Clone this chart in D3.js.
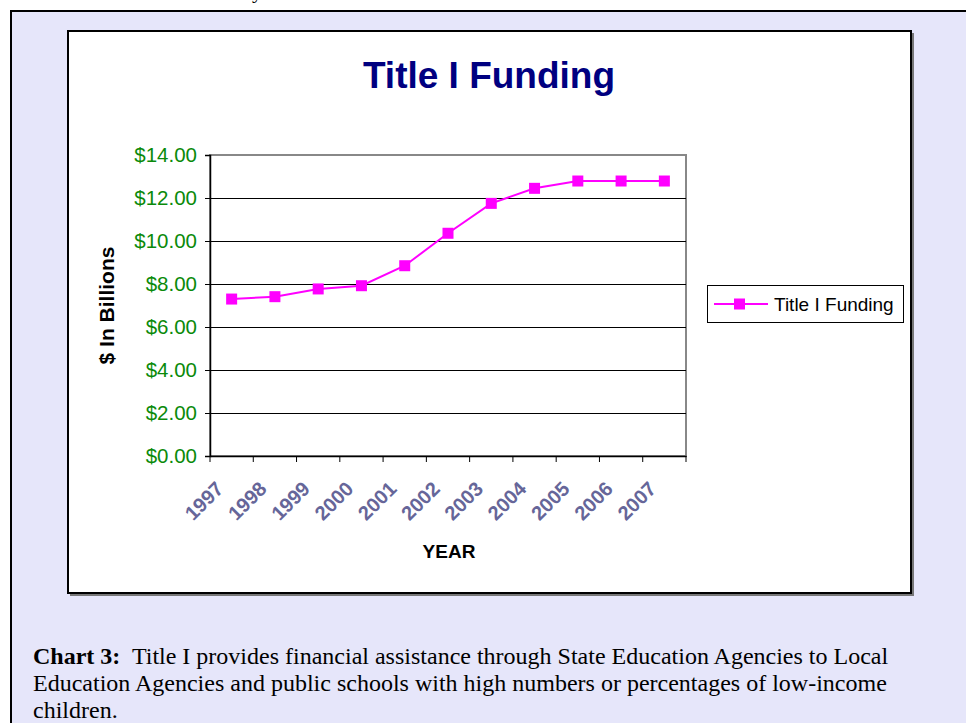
<!DOCTYPE html>
<html>
<head>
<meta charset="utf-8">
<script src="https://cdn.jsdelivr.net/npm/d3@7/dist/d3.min.js"></script>
<style>
  html, body { margin: 0; padding: 0; background: #fff; }
  svg { display: block; }
</style>
</head>
<body>
<svg id="chart" width="966" height="723"></svg>
<script>
const years = ["1997","1998","1999","2000","2001","2002","2003","2004","2005","2006","2007"];
const funding = [7.30, 7.41, 7.77, 7.92, 8.85, 10.36, 11.75, 12.45, 12.79, 12.79, 12.79];
const yTicks = [0, 2, 4, 6, 8, 10, 12, 14];
const seriesName = "Title I Funding";
const chartTitle = "Title I Funding";
const yLabel = "$ In Billions";
const xLabel = "YEAR";
const captionBold = "Chart 3:";
const captionLines = [
  "  Title I provides financial assistance through State Education Agencies to Local",
  "Education Agencies and public schools with high numbers or percentages of low-income",
  "children."
];

const svg = d3.select("#chart");
const W = 966, H = 723;

// page background & outer frame
svg.append("rect").attr("x", 0).attr("y", 0).attr("width", W).attr("height", H).attr("fill", "#fff");
svg.append("rect").attr("x", 11).attr("y", 11).attr("width", W).attr("height", H).attr("fill", "#E6E6FA");
svg.append("path").attr("d", `M11,${H}V11H${W}`).attr("fill", "none").attr("stroke", "#000").attr("stroke-width", 2);
// cut-off text fragment above frame (as in the source page)
svg.append("text").attr("x", 252).attr("y", -2).attr("font-family", "Liberation Serif").attr("font-size", 21).attr("fill", "#000").text("y");

// chart box with shadow
svg.append("rect").attr("x", 70).attr("y", 33).attr("width", 844).attr("height", 563).attr("fill", "#777");
svg.append("rect").attr("x", 68).attr("y", 31).attr("width", 843).attr("height", 562)
  .attr("fill", "#fff").attr("stroke", "#000").attr("stroke-width", 2);

// title
svg.append("text").attr("x", 489).attr("y", 88).attr("text-anchor", "middle")
  .attr("font-family", "Liberation Sans, Arial, sans-serif").attr("font-weight", "bold")
  .attr("font-size", 37).attr("fill", "#000080").text(chartTitle);

// scales
const plot = { left: 210, right: 686, top: 155, bottom: 456 };
const x = d3.scaleBand().domain(years).range([plot.left, plot.right]).padding(0);
const y = d3.scaleLinear().domain([0, 14]).range([plot.bottom, plot.top]);

// plot area border (gray)
svg.append("rect").attr("x", plot.left).attr("y", plot.top)
  .attr("width", plot.right - plot.left).attr("height", plot.bottom - plot.top)
  .attr("fill", "#fff").attr("stroke", "#888").attr("stroke-width", 2);

// gridlines
svg.append("g").selectAll("line").data(yTicks.filter(d => d > 0 && d < 14)).join("line")
  .attr("x1", plot.left).attr("x2", plot.right)
  .attr("y1", d => Math.round(y(d)) + 0.5).attr("y2", d => Math.round(y(d)) + 0.5)
  .attr("stroke", "#000").attr("stroke-width", 1);

// y axis
const yAxis = svg.append("g").attr("transform", `translate(${plot.left},0)`)
  .call(d3.axisLeft(y).tickValues(yTicks).tickFormat(d3.format("$.2f")).tickSize(5).tickPadding(8));
yAxis.select(".domain").attr("stroke", "#000").attr("stroke-width", 1.5);
yAxis.selectAll(".tick line").attr("stroke", "#000").attr("stroke-width", 1);
yAxis.selectAll(".tick text").attr("fill", "#0a8a0a")
  .attr("font-family", "Liberation Sans, Arial, sans-serif").attr("font-size", 20.5);

// x axis (ticks at band boundaries)
const xAxis = svg.append("g").attr("transform", `translate(0,${plot.bottom})`)
  .call(d3.axisBottom(x).tickSize(0).tickPadding(0));
xAxis.select(".domain").attr("stroke", "#000").attr("stroke-width", 1.5);
const edges = years.map(d => x(d)).concat([plot.right]);
xAxis.append("g").selectAll("line").data(edges).join("line")
  .attr("x1", d => d).attr("x2", d => d).attr("y1", 0).attr("y2", 6)
  .attr("stroke", "#000").attr("stroke-width", 1);
xAxis.selectAll(".tick text")
  .attr("fill", "#666699").attr("font-family", "Liberation Sans, Arial, sans-serif")
  .attr("font-weight", "bold").attr("font-size", 20)
  .attr("text-anchor", "end").attr("dy", "0.71em")
  .attr("transform", "translate(-17,24) rotate(-45)");

// axis titles
svg.append("text").attr("transform", "translate(114,305.5) rotate(-90)").attr("text-anchor", "middle")
  .attr("font-family", "Liberation Sans, Arial, sans-serif").attr("font-weight", "bold")
  .attr("font-size", 21).attr("fill", "#000").text(yLabel);
svg.append("text").attr("x", 449).attr("y", 558).attr("text-anchor", "middle")
  .attr("font-family", "Liberation Sans, Arial, sans-serif").attr("font-weight", "bold")
  .attr("font-size", 19).attr("fill", "#000").text(xLabel);

// series line & markers
const cx = d => x(d) + x.bandwidth() / 2;
const data = years.map((yr, i) => ({ yr, v: funding[i] }));
svg.append("path").datum(data)
  .attr("d", d3.line().x(d => cx(d.yr)).y(d => y(d.v)))
  .attr("fill", "none").attr("stroke", "#FF00FF").attr("stroke-width", 2);
const ms = 11;
svg.append("g").selectAll("rect").data(data).join("rect")
  .attr("x", d => cx(d.yr) - ms / 2).attr("y", d => y(d.v) - ms / 2)
  .attr("width", ms).attr("height", ms).attr("fill", "#FF00FF");

// legend
const lg = svg.append("g");
lg.append("rect").attr("x", 707.5).attr("y", 285.5).attr("width", 196).attr("height", 37)
  .attr("fill", "#fff").attr("stroke", "#000").attr("stroke-width", 1);
lg.append("line").attr("x1", 714).attr("x2", 768).attr("y1", 304).attr("y2", 304)
  .attr("stroke", "#FF00FF").attr("stroke-width", 2);
lg.append("rect").attr("x", 739.5 - ms / 2).attr("y", 304 - ms / 2).attr("width", ms).attr("height", ms).attr("fill", "#FF00FF");
lg.append("text").attr("x", 774).attr("y", 311).attr("font-family", "Liberation Sans, Arial, sans-serif")
  .attr("font-size", 19).attr("fill", "#000").text(seriesName);

// caption
const cap = svg.append("text").attr("font-family", "Liberation Serif, Times New Roman, serif")
  .attr("font-size", 24).attr("fill", "#000").attr("xml:space", "preserve");
const l1 = cap.append("tspan").attr("x", 33).attr("y", 664);
l1.append("tspan").attr("font-weight", "bold").text(captionBold);
l1.append("tspan").text(captionLines[0]);
cap.append("tspan").attr("x", 33).attr("y", 691).text(captionLines[1]);
cap.append("tspan").attr("x", 33).attr("y", 718).text(captionLines[2]);
</script>
</body>
</html>
